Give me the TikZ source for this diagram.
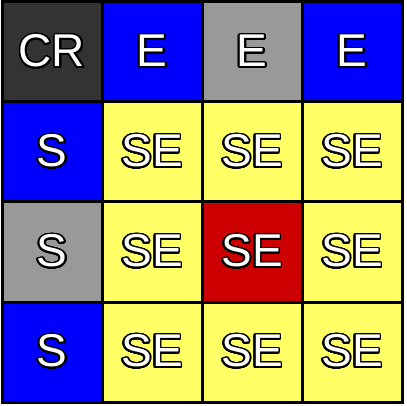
\documentclass[tikz,border=0pt]{standalone}
\usepackage{fontspec}
\setmainfont{Liberation Sans}
\usepackage[copies]{contour}
\contournumber{32}
\contourlength{1.7pt}
\definecolor{cdark}{HTML}{333333}
\definecolor{cblue}{HTML}{0000FF}
\definecolor{cgray}{HTML}{999999}
\definecolor{cyel}{HTML}{FFFF66}
\definecolor{cred}{HTML}{CC0000}
\tikzset{
  cell/.style={draw=black, line width=3pt, minimum width=100pt, minimum height=100pt, inner sep=0pt, outer sep=0pt, anchor=center,
    font=\fontsize{46pt}{46pt}\selectfont, text=white},
}
\newcommand{\lbl}[1]{\contour{black}{#1}}
\begin{document}
\begin{tikzpicture}[x=1pt,y=-1pt]
\useasboundingbox (0,0) rectangle (407,406);
\node[cell, fill=cdark] (c00) at (52,52) {\lbl{CR}};
\node[cell, fill=cblue] (c01) at (152,52) {\lbl{E}};
\node[cell, fill=cgray] (c02) at (252,52) {\lbl{E}};
\node[cell, fill=cblue] (c03) at (352,52) {\lbl{E}};
\node[cell, fill=cblue] (c10) at (52,152) {\lbl{S}};
\node[cell, fill=cyel] (c11) at (152,152) {\lbl{SE}};
\node[cell, fill=cyel] (c12) at (252,152) {\lbl{SE}};
\node[cell, fill=cyel] (c13) at (352,152) {\lbl{SE}};
\node[cell, fill=cgray] (c20) at (52,252) {\lbl{S}};
\node[cell, fill=cyel] (c21) at (152,252) {\lbl{SE}};
\node[cell, fill=cred] (c22) at (252,252) {\lbl{SE}};
\node[cell, fill=cyel] (c23) at (352,252) {\lbl{SE}};
\node[cell, fill=cblue] (c30) at (52,352) {\lbl{S}};
\node[cell, fill=cyel] (c31) at (152,352) {\lbl{SE}};
\node[cell, fill=cyel] (c32) at (252,352) {\lbl{SE}};
\node[cell, fill=cyel] (c33) at (352,352) {\lbl{SE}};
\end{tikzpicture}
\end{document}
